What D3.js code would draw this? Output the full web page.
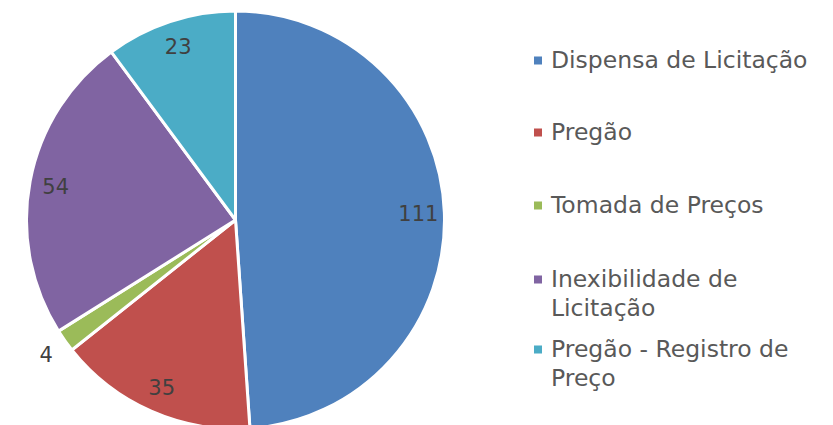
<!DOCTYPE html>
<html><head><meta charset="utf-8">
<script src="https://cdn.jsdelivr.net/npm/d3@7"></script>
<style>html,body{margin:0;padding:0;background:#fff;overflow:hidden}</style>
</head><body>
<svg id="c" width="833" height="425"></svg>
<script>
const categories = ["Dispensa de Licitação", "Pregão", "Tomada de Preços", "Inexibilidade de Licitação", "Pregão - Registro de Preço"];
const values = [111, 35, 4, 54, 23];
const colors = ["#4F81BD", "#C0504D", "#9BBB59", "#8064A2", "#4BACC6"];
const legendLines = [["Dispensa de Licitação"], ["Pregão"], ["Tomada de Preços"], ["Inexibilidade de", "Licitação"], ["Pregão - Registro de", "Preço"]];

const svg = d3.select("#c");
const font = "'DejaVu Sans', sans-serif";
const cx = 235.5, cy = 220, R = 209;
const pie = d3.pie().sort(null).value(d => d)(values);
const arc = d3.arc().innerRadius(0).outerRadius(R);
const g = svg.append("g").attr("transform", `translate(${cx},${cy})`);
g.selectAll("path").data(pie).join("path")
  .attr("d", arc).attr("fill", (d, i) => colors[i])
  .attr("stroke", "#fff").attr("stroke-width", 3).attr("stroke-linejoin", "round");

const inArc = d3.arc().innerRadius(183).outerRadius(183);
const outArc = d3.arc().innerRadius(232).outerRadius(232);
g.selectAll("text.lbl").data(pie).join("text").attr("class", "lbl")
  .attr("transform", (d, i) => {
    const p = (d.endAngle - d.startAngle) < 0.3 ? outArc.centroid(d) : inArc.centroid(d);
    return `translate(${p[0]},${p[1]})`;
  })
  .attr("text-anchor", "middle").attr("dy", "0.36em")
  .attr("font-family", font).attr("font-size", 21).attr("fill", "#404040")
  .text(d => d.data);

const lg = svg.append("g");
const baselines = [68, 140, 213, 287, 357];
legendLines.forEach((lines, i) => {
  lg.append("rect").attr("x", 534).attr("y", baselines[i] - 11.5).attr("width", 8).attr("height", 8).attr("fill", colors[i]);
  const t = lg.append("text").attr("x", 551).attr("y", baselines[i])
    .attr("font-family", font).attr("font-size", 23.5).attr("fill", "#595959");
  lines.forEach((l, k) => t.append("tspan").attr("x", 551).attr("dy", k === 0 ? 0 : "1.25em").text(l));
});
</script>
</body></html>
